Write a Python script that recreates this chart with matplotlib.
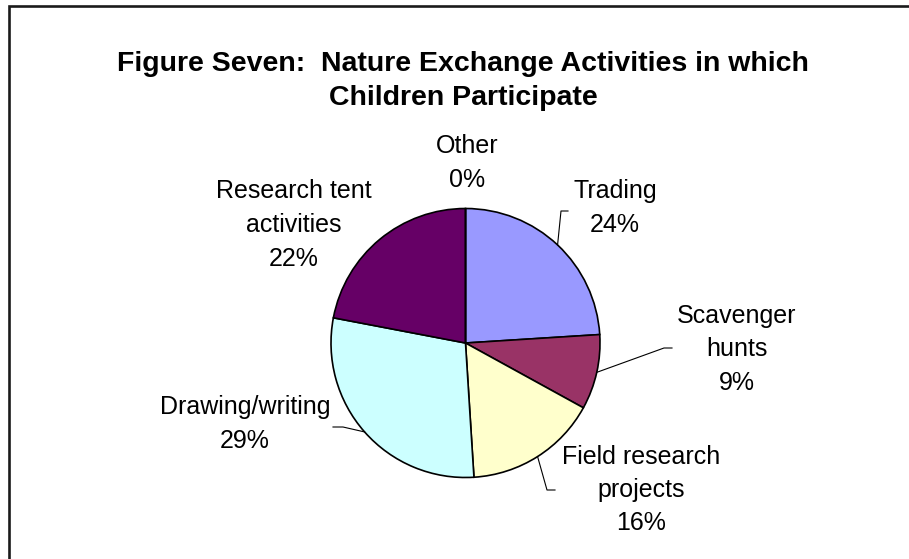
import matplotlib
matplotlib.use('Agg')
import matplotlib.pyplot as plt
import numpy as np

plt.rcParams['font.family'] = ['Liberation Sans', 'DejaVu Sans']

# share of children taking part in each activity (%)
activities = ['Trading', 'Scavenger\nhunts', 'Field research\nprojects',
              'Drawing/writing', 'Research tent\nactivities', 'Other']
shares = [24, 9, 16, 29, 22, 0]
colours = ['#9999FF', '#993366', '#FFFFCC', '#CCFFFF', '#660066', '#FFFFFF']

W, H = 909, 559
CX, CY, R = 465.5, 343, 134.5   # pie centre / radius in pixels, y from top

# label block centres (pixels, y from top) and leader elbows
label_pos = [(615, 208), (737, 349), (641, 490), (245, 424), (294, 225), (467, 163)]
elbows = [((561, 211), (568, 211)),
          ((664, 348), (672, 348)),
          ((547, 490), (555, 490)),
          ((343, 427), (333, 427)),
          None, None]


def fy(y):
    return H - y


fig = plt.figure(figsize=(W / 100, H / 100), dpi=100)
ax = fig.add_axes([0, 0, 1, 1])

wedges, _ = ax.pie(shares, colors=colours, startangle=90, counterclock=False,
                   center=(CX, fy(CY)), radius=R,
                   wedgeprops=dict(edgecolor='black', linewidth=1.2))
ax.set_xlim(0, W)
ax.set_ylim(0, H)
ax.set_aspect('equal')
ax.axis('off')

for name, val, (lx, ly), w, elb in zip(activities, shares, label_pos, wedges, elbows):
    ax.text(lx, fy(ly), f'{name}\n{val}%', ha='center', va='center',
            fontsize=18, linespacing=1.5)
    if elb is None:
        continue
    mid = np.deg2rad((w.theta1 + w.theta2) / 2)
    px, py = CX + R * np.cos(mid), fy(CY) + R * np.sin(mid)
    (ex, ey), (hx, hy) = elb
    ax.plot([px, ex, hx], [py, fy(ey), fy(hy)], color='black', lw=0.8)

ax.text(463, fy(81), 'Figure Seven:  Nature Exchange Activities in which\nChildren Participate',
        ha='center', va='center', fontsize=20.5, fontweight='bold', linespacing=1.4)

# chart border (only the left and top edges fall inside the image)
ax.plot([8.5, 8.5, W + 10], [-10, fy(6), fy(6)], color='#1a1a1a', lw=1.9,
        clip_on=False, solid_joinstyle='miter')

fig.savefig('out.png', dpi=100, facecolor='white')
